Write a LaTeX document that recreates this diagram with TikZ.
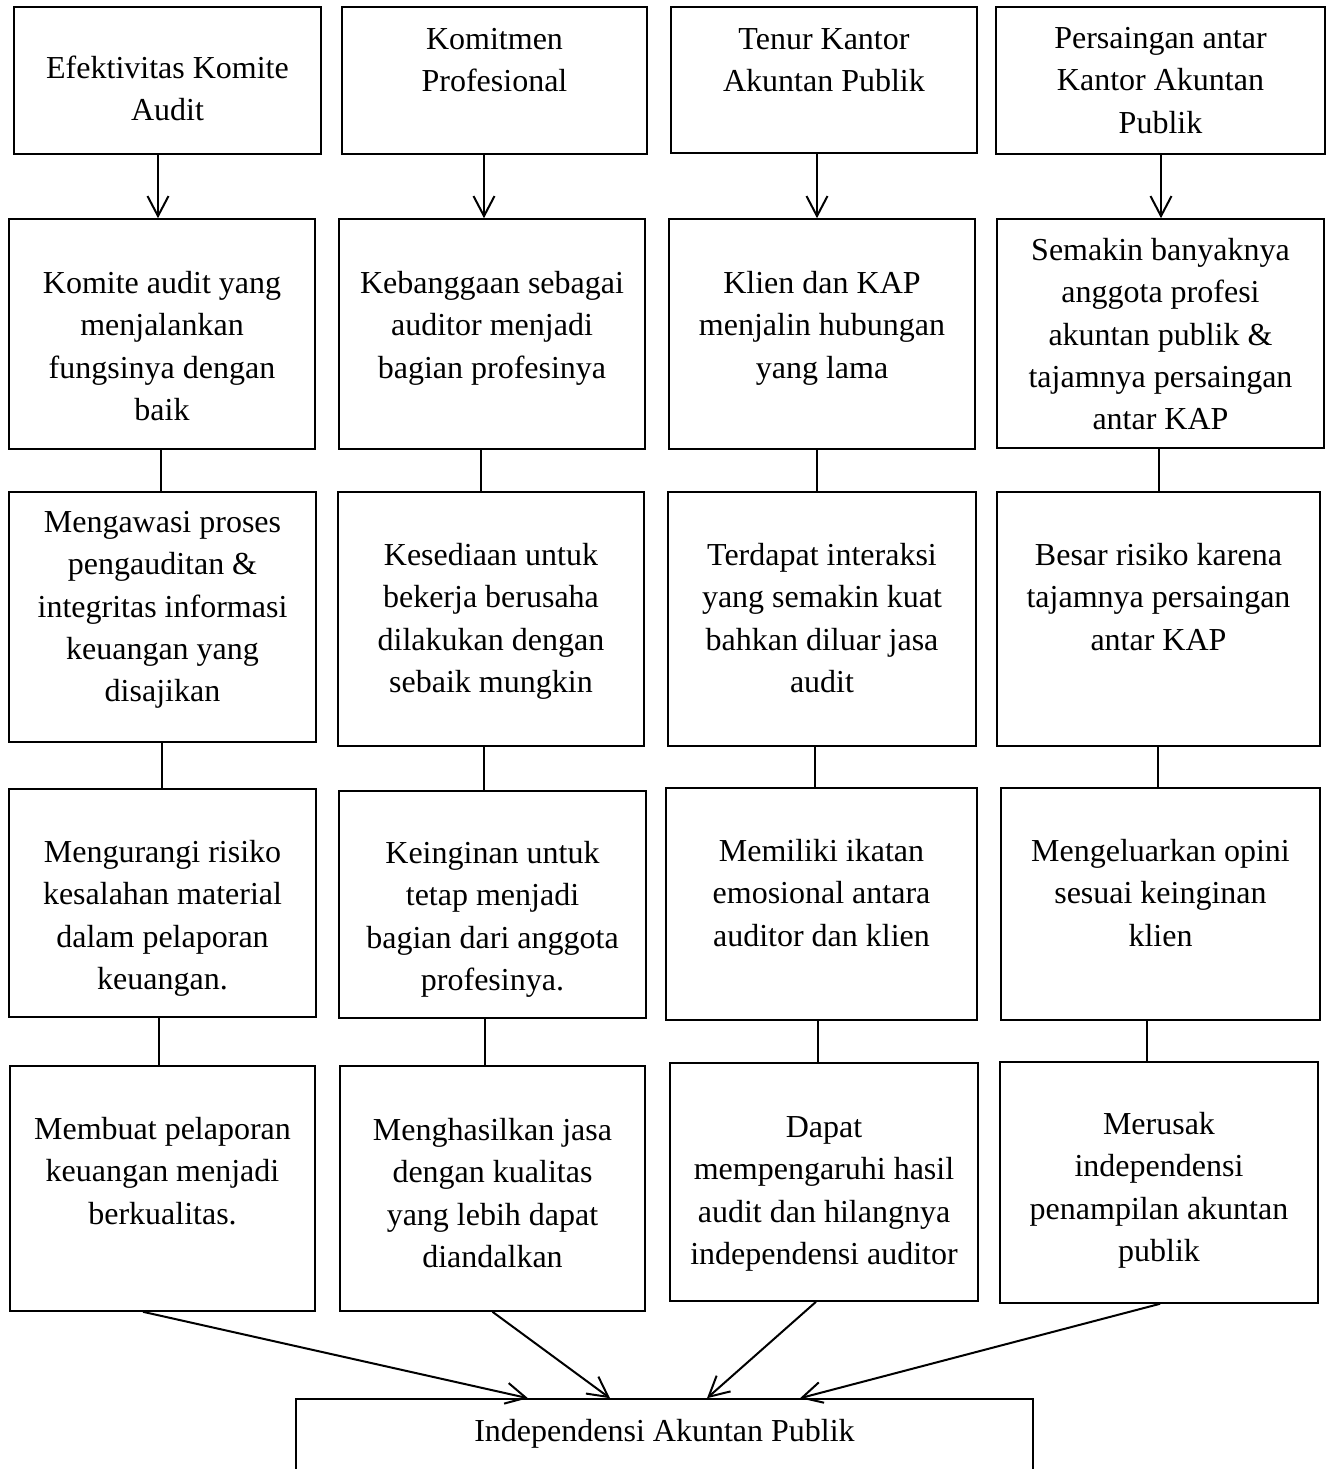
\documentclass[tikz,border=0pt]{standalone}
\usepackage{fontspec}
\setmainfont{Liberation Serif}
\usetikzlibrary{arrows.meta,fit,calc}
\begin{document}
\begin{tikzpicture}[x=0.5pt,y=-0.5pt,
  box/.style={draw, line width=0.8pt, inner sep=0pt},
  txt/.style={anchor=north, inner sep=0pt, align=center, font=\fontsize{16pt}{21.2pt}\selectfont, yshift=-1pt},
  link/.style={line width=1pt},
  arr/.style={line width=1pt, -{Straight Barb[length=10pt,width=10.5pt]}}]
\useasboundingbox (0,0) rectangle (1328,1469);
\clip (0,0) rectangle (1328,1469);

% ---- boxes ----
\node[box, fit={(14,7) (321,154)}] (a1) {};
\node[box, fit={(342,7) (647,154)}] (b1) {};
\node[box, fit={(671,7) (977,153)}] (c1) {};
\node[box, fit={(996,7) (1325,154)}] (d1) {};

\node[box, fit={(9,219) (315,449)}] (a2) {};
\node[box, fit={(339,219) (645,449)}] (b2) {};
\node[box, fit={(669,219) (975,449)}] (c2) {};
\node[box, fit={(997,219) (1324,448)}] (d2) {};

\node[box, fit={(9,492) (316,742)}] (a3) {};
\node[box, fit={(338,492) (644,746)}] (b3) {};
\node[box, fit={(668,492) (976,746)}] (c3) {};
\node[box, fit={(997,492) (1320,746)}] (d3) {};

\node[box, fit={(9,789) (316,1017)}] (a4) {};
\node[box, fit={(339,791) (646,1018)}] (b4) {};
\node[box, fit={(666,788) (977,1020)}] (c4) {};
\node[box, fit={(1001,788) (1320,1020)}] (d4) {};

\node[box, fit={(10,1066) (315,1311)}] (a5) {};
\node[box, fit={(340,1066) (645,1311)}] (b5) {};
\node[box, fit={(670,1063) (978,1301)}] (c5) {};
\node[box, fit={(1000,1062) (1318,1303)}] (d5) {};

\node[box, fit={(296,1399) (1033,1530)}] (ind) {};

% ---- texts ----
\node[txt] (a1t) at (167.5,46.3) {\strut Efektivitas Komite\\Audit};
\node[txt] (b1t) at (494.5,17.3) {\strut Komitmen\\Profesional};
\node[txt] (c1t) at (824,17.3) {\strut Tenur Kantor\\Akuntan Publik};
\node[txt] (d1t) at (1160.5,16.3) {\strut Persaingan antar\\Kantor Akuntan\\Publik};

\node[txt] (a2t) at (162,261.3) {\strut Komite audit yang\\menjalankan\\fungsinya dengan\\baik};
\node[txt] (b2t) at (492,261.3) {\strut Kebanggaan sebagai\\auditor menjadi\\bagian profesinya};
\node[txt] (c2t) at (822,261.3) {\strut Klien dan KAP\\menjalin hubungan\\yang lama};
\node[txt] (d2t) at (1160.5,228.3) {\strut Semakin banyaknya\\anggota profesi\\akuntan publik \&\\tajamnya persaingan\\antar KAP};

\node[txt] (a3t) at (162.5,500.3) {\strut Mengawasi proses\\pengauditan \&\\integritas informasi\\keuangan yang\\disajikan};
\node[txt] (b3t) at (491,533.3) {\strut Kesediaan untuk\\bekerja berusaha\\dilakukan dengan\\sebaik mungkin};
\node[txt] (c3t) at (822,533.3) {\strut Terdapat interaksi\\yang semakin kuat\\bahkan diluar jasa\\audit};
\node[txt] (d3t) at (1158.5,533.3) {\strut Besar risiko karena\\tajamnya persaingan\\antar KAP};

\node[txt] (a4t) at (162.5,830.3) {\strut Mengurangi risiko\\kesalahan material\\dalam pelaporan\\keuangan.};
\node[txt] (b4t) at (492.5,831.3) {\strut Keinginan untuk\\tetap menjadi\\bagian dari anggota\\profesinya.};
\node[txt] (c4t) at (821.5,829.3) {\strut Memiliki ikatan\\emosional antara\\auditor dan klien};
\node[txt] (d4t) at (1160.5,829.3) {\strut Mengeluarkan opini\\sesuai keinginan\\klien};

\node[txt] (a5t) at (162.5,1107.3) {\strut Membuat pelaporan\\keuangan menjadi\\berkualitas.};
\node[txt] (b5t) at (492.5,1108.3) {\strut Menghasilkan jasa\\dengan kualitas\\yang lebih dapat\\diandalkan};
\node[txt] (c5t) at (824,1105.3) {\strut Dapat\\mempengaruhi hasil\\audit dan hilangnya\\independensi auditor};
\node[txt] (d5t) at (1159,1102.3) {\strut Merusak\\independensi\\penampilan akuntan\\publik};

\node[txt] (indt) at (664.5,1409.3) {\strut Independensi Akuntan Publik};

% ---- connector x positions ----
\coordinate (xa1) at (158,0);  \coordinate (xb1) at (484,0);
\coordinate (xc1) at (817,0);  \coordinate (xd1) at (1161,0);
\coordinate (xa2) at (161,0);  \coordinate (xb2) at (481,0);
\coordinate (xc2) at (817,0);  \coordinate (xd2) at (1159,0);
\coordinate (xa3) at (162,0);  \coordinate (xb3) at (484,0);
\coordinate (xc3) at (815,0);  \coordinate (xd3) at (1158,0);
\coordinate (xa4) at (159,0);  \coordinate (xb4) at (485,0);
\coordinate (xc4) at (818,0);  \coordinate (xd4) at (1147,0);

% row 1 -> row 2 arrows
\draw[arr] (a1.south -| xa1) -- (a2.north -| xa1);
\draw[arr] (b1.south -| xb1) -- (b2.north -| xb1);
\draw[arr] (c1.south -| xc1) -- (c2.north -| xc1);
\draw[arr] (d1.south -| xd1) -- (d2.north -| xd1);

% plain links
\draw[link] (a2.south -| xa2) -- (a3.north -| xa2);
\draw[link] (b2.south -| xb2) -- (b3.north -| xb2);
\draw[link] (c2.south -| xc2) -- (c3.north -| xc2);
\draw[link] (d2.south -| xd2) -- (d3.north -| xd2);

\draw[link] (a3.south -| xa3) -- (a4.north -| xa3);
\draw[link] (b3.south -| xb3) -- (b4.north -| xb3);
\draw[link] (c3.south -| xc3) -- (c4.north -| xc3);
\draw[link] (d3.south -| xd3) -- (d4.north -| xd3);

\draw[link] (a4.south -| xa4) -- (a5.north -| xa4);
\draw[link] (b4.south -| xb4) -- (b5.north -| xb4);
\draw[link] (c4.south -| xc4) -- (c5.north -| xc4);
\draw[link] (d4.south -| xd4) -- (d5.north -| xd4);

% diagonal arrows to the bottom box
\draw[arr] ($(a5.south)+(-19.5,0)$) -- ($(ind.north)+(-136.5,0)$);
\draw[arr] ($(b5.south)+(0,0)$) -- ($(ind.north)+(-54.5,0)$);
\draw[arr] ($(c5.south)+(-8,0)$) -- ($(ind.north)+(42.5,0)$);
\draw[arr] ($(d5.south)+(1,0)$) -- ($(ind.north)+(135.5,0)$);
\end{tikzpicture}
\end{document}
